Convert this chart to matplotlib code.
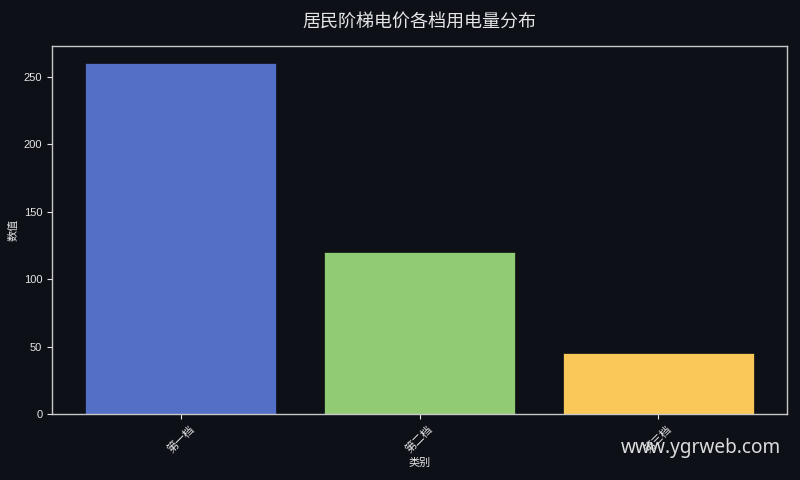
import matplotlib
matplotlib.use("Agg")
import matplotlib.pyplot as plt

categories = ["第一档", "第二档", "第三档"]
values = [260, 120, 45]
colors = ["#5470c6", "#91cc75", "#fac858"]
title = "居民阶梯电价各档用电量分布"
xlabel = "类别"
ylabel = "数值"
watermark = "www.ygrweb.com"

plt.rcParams['font.family'] = ['Liberation Sans', 'Noto Sans CJK SC', 'DejaVu Sans']
bg = "#0d1017"
fg = "#e6e6e6"

fig = plt.figure(figsize=(8, 4.8), dpi=100, facecolor=bg)
ax = fig.add_axes([0.065, 0.1375, 0.919, 0.767])
ax.set_facecolor(bg)
x = list(range(len(categories)))
ax.bar(x, values, width=0.8, color=colors, edgecolor=bg, linewidth=0.5)
ax.set_xticks(x)
ax.set_xticklabels(categories, rotation=45, fontsize=8, color=fg)
ax.tick_params(axis='y', labelsize=8, colors=fg)
ax.tick_params(axis='x', colors=fg)
for s in ax.spines.values():
    s.set_color("#c8c8c8")
    s.set_linewidth(1.0)
ax.set_xlabel(xlabel, fontsize=8, color=fg, labelpad=2)
ax.set_ylabel(ylabel, fontsize=8, color=fg)
ax.set_title(title, fontsize=13, color=fg, pad=14)
fig.text(0.976, 0.066, watermark, fontsize=13.7, color="#dcdcdc", ha="right", va="center",
         family=["Noto Sans", "DejaVu Sans"])
fig.savefig("out.png", facecolor=bg)
